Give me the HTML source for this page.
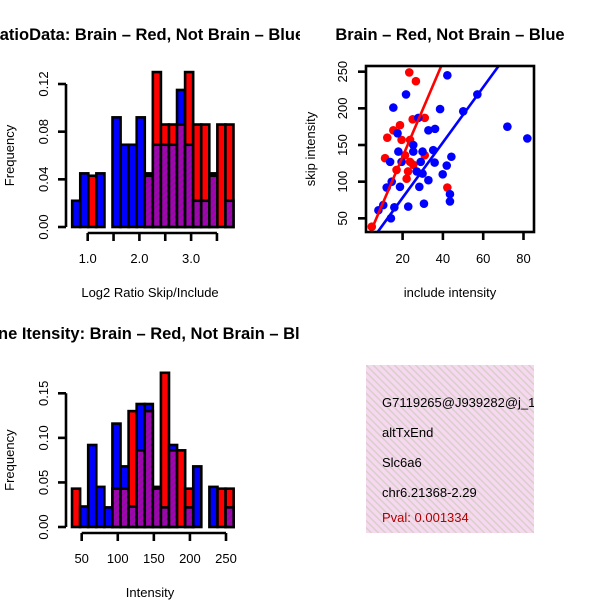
<!DOCTYPE html>
<html><head><meta charset="utf-8"><style>
html,body{margin:0;padding:0;background:#fff}
svg{display:block;font-family:"Liberation Sans",sans-serif}
</style></head><body>
<svg id="c" width="600" height="600" viewBox="0 0 600 600">
<defs>
<pattern id="hatchP" patternUnits="userSpaceOnUse" width="4" height="4" patternTransform="rotate(45)">
<rect width="4" height="4" fill="#a800b8"/><rect width="1.3" height="4" fill="#7a1a8a"/>
</pattern>
<pattern id="hatchBox" patternUnits="userSpaceOnUse" width="5" height="5" patternTransform="rotate(-45)">
<rect width="5" height="5" fill="#f6d8f0"/><rect width="1.5" height="5" fill="#d9cfc9"/>
</pattern>
<clipPath id="scClip"><rect x="366" y="66" width="168" height="166"/></clipPath>
<clipPath id="boxClip"><rect x="366" y="365" width="168" height="168"/></clipPath>
<clipPath id="leftClip"><rect x="0" y="0" width="300" height="600"/></clipPath>
</defs>
</svg>
<script>
// ---- Data: top-left ratio histogram ----
const ratioBinStart = 0.70;
const ratioBinWidth = 0.156;
const ratioBlue = [0.022,0.045,0,0.045,0,0.092,0.069,0.069,0.092,0.045,0.069,0.069,0.069,0.115,0.069,0.022,0.022,0.045,0,0.022];
const ratioRed  = [0,0,0.043,0,0,0,0,0,0,0.043,0.130,0.086,0.086,0.086,0.130,0.086,0.086,0.043,0.086,0.086];
const ratioYTicks = [0,0.04,0.08,0.12];
const ratioYLabels = ["0.00","0.04","0.08","0.12"];
const ratioXTicks = [1.0,1.5,2.0,2.5,3.0,3.5];
const ratioXLabels = ["1.0","","2.0","","3.0",""];
// ---- Data: bottom-left intensity histogram ----
const intBinStart = 36.6;
const intBinWidth = 11.2;
const intBlue = [0,0.023,0.092,0.045,0.022,0.116,0.068,0.023,0.138,0.138,0.045,0.022,0.092,0,0.022,0.068,0,0.045,0,0.022];
const intRed  = [0.043,0,0,0,0,0.043,0.043,0.130,0.086,0.130,0.043,0.173,0.086,0.086,0.043,0,0,0,0.043,0.043];
const intYTicks = [0,0.05,0.10,0.15];
const intYLabels = ["0.00","0.05","0.10","0.15"];
const intXTicks = [50,100,150,200,250];
const intXLabels = ["50","100","150","200","250"];
// ---- Data: scatter ----
const redX = [4.7,23.3,26.6,12.4,15.4,18.7,25,31,11.3,17,19.5,23.7,21.2,23.7,22.7,22,31,42.2,25.3];
const redY = [38.6,249,237,160,170,177,185,187,132,116,157,157,136,127,114,104,136,92,123];
const blueX = [42.2,21.7,15.4,38.6,50.1,57.1,72,81.9,27.8,32.8,36.1,17.5,17.9,13.8,25.3,25.3,29.9,29,35.9,35.2,41.9,44.2,39.9,32.8,29.9,28.3,18.7,12.1,14.6,43.5,43.5,30.6,22.8,15.9,14.2,10.4,8,27,19.5];
const blueY = [245,219,201,199,196,219,175,159,187,170,172,166,141,127,150,141,141,127,126,143,122,134,110,102,111,93,93,92,100,83,73,70,66,65,50,68,61,114,127];
const redFit = [5, 6.45];   // intercept, slope
const blueFit = [2.7, 3.77];
const scXTicks = [20,40,60,80];
const scYTicks = [50,100,150,200,250];

const svg = document.getElementById('c');
const NS = 'http://www.w3.org/2000/svg';
function mk(tag, attrs, parent){const e=document.createElementNS(NS,tag);for(const k in attrs)e.setAttribute(k,attrs[k]);(parent||svg).appendChild(e);return e;}
function txt(s, attrs, parent){const e=mk('text',attrs,parent);e.textContent=s;return e;}

function histogram(name, blue, red, start, width, xs, ys, yTicks, yLabels, xTicks, xLabels, xAxisY, xlab, title, titleX, titleAnchor, titleY, xlabY){
  const g = mk('g',{});
  
  
  const base = ys(0);
  for(let i=0;i<blue.length;i++){
    const x0 = xs(start+i*width), x1 = xs(start+(i+1)*width);
    const b = blue[i], r = red[i];
    const hi = Math.max(b,r), lo = Math.min(b,r);
    if(hi>0){
      const bar = mk('rect',{x:x0,y:ys(hi),width:x1-x0,height:base-ys(hi),fill:b>=r?'#0000ff':'#ff0000',stroke:'#000','stroke-width':2.6},g);
      
      
    }
    if(lo>0){
      const ov = mk('rect',{x:x0,y:ys(lo),width:x1-x0,height:base-ys(lo),fill:'url(#hatchP)',stroke:'#000','stroke-width':2.6},g);
      
      
    }
  }
  const ya = mk('g',{},g);
  
  
  mk('line',{x1:66,x2:66,y1:ys(yTicks[0]),y2:ys(yTicks[yTicks.length-1]),stroke:'#000','stroke-width':2.6},ya);
  yTicks.forEach((t,i)=>{
    mk('line',{x1:58,x2:66,y1:ys(t),y2:ys(t),stroke:'#000','stroke-width':2.6},ya);
    const l = txt(yLabels[i],{x:48,y:ys(t),'font-size':13,'text-anchor':'middle',transform:`rotate(-90 48 ${ys(t)})`},ya);
    
    
  });
  const xa = mk('g',{},g);
  
  
  mk('line',{x1:xs(xTicks[0]),x2:xs(xTicks[xTicks.length-1]),y1:xAxisY,y2:xAxisY,stroke:'#000','stroke-width':2.6},xa);
  xTicks.forEach((t,i)=>{
    mk('line',{x1:xs(t),x2:xs(t),y1:xAxisY,y2:xAxisY+8,stroke:'#000','stroke-width':2.6},xa);
    if(xLabels[i]){
      const l = txt(xLabels[i],{x:xs(t),y:xAxisY+30,'font-size':13,'text-anchor':'middle'},xa);
      
      
    }
  });
  const yt = txt('Frequency',{x:14,y:(ys(0)+ys(yTicks[yTicks.length-1]))/2,'font-size':13,'text-anchor':'middle',transform:`rotate(-90 14 ${(ys(0)+ys(yTicks[yTicks.length-1]))/2})`},g);
  
  
  const xt = txt(xlab,{x:150,y:xlabY,'font-size':13,'text-anchor':'middle'},g);
  
  
  const tt = txt(title,{x:titleX,y:titleY,'font-size':16.5,'font-weight':'bold','text-anchor':titleAnchor,'clip-path':'url(#leftClip)'},g);
  
  
}

const rxs = v => 87.7 + (v-1.0)*51.7;
const rys = v => 227 - v*(143/0.12);
histogram('ratio-histogram', ratioBlue, ratioRed, ratioBinStart, ratioBinWidth, rxs, rys, ratioYTicks, ratioYLabels, ratioXTicks, ratioXLabels, 233, 'Log2 Ratio Skip/Include', 'RatioData: Brain \u2013 Red, Not Brain \u2013 Blue', 146, 'middle', 40, 297);
const ixs = v => 81.7 + (v-50)*(144.3/200);
const iys = v => 527 - v*(133.7/0.15);
histogram('intensity-histogram', intBlue, intRed, intBinStart, intBinWidth, ixs, iys, intYTicks, intYLabels, intXTicks, intXLabels, 533, 'Intensity', 'ne Itensity: Brain \u2013 Red, Not Brain \u2013 Blue', -2, 'start', 339, 597);

const sxs = v => 362.3 + v*2.015;
const sys = v => 255 - v*0.7333;
const sg = mk('g',{});


const pg = mk('g',{'clip-path':'url(#scClip)'},sg);
redX.forEach((x,i)=>{
  const c = mk('circle',{cx:sxs(x),cy:sys(redY[i]),r:4.3,fill:'#ff0000'},pg);
  
  
});
blueX.forEach((x,i)=>{
  const c = mk('circle',{cx:sxs(x),cy:sys(blueY[i]),r:4.3,fill:'#0000ff'},pg);
  
  
});
[[redFit,'#ff0000','fit-line-red'],[blueFit,'#0000ff','fit-line-blue']].forEach(([f,col,n])=>{
  const l = mk('line',{x1:sxs(0),y1:sys(f[0]),x2:sxs(100),y2:sys(f[0]+f[1]*100),stroke:col,'stroke-width':2.6},pg);
  
  
});
const frame = mk('rect',{x:366,y:66,width:168,height:166,fill:'none',stroke:'#000','stroke-width':2.6},sg);


scXTicks.forEach(t=>{
  mk('line',{x1:sxs(t),x2:sxs(t),y1:232,y2:240,stroke:'#000','stroke-width':2.6},sg);
  const l = txt(String(t),{x:sxs(t),y:263,'font-size':13,'text-anchor':'middle'},sg);
  
  
});
scYTicks.forEach(t=>{
  mk('line',{x1:358,x2:366,y1:sys(t),y2:sys(t),stroke:'#000','stroke-width':2.6},sg);
  const l = txt(String(t),{x:347,y:sys(t),'font-size':13,'text-anchor':'middle',transform:`rotate(-90 347 ${sys(t)})`},sg);
  
  
});
const sxt = txt('include intensity',{x:450,y:297,'font-size':13,'text-anchor':'middle'},sg);


const syt = txt('skip intensity',{x:315,y:149,'font-size':13,'text-anchor':'middle',transform:'rotate(-90 315 149)'},sg);


const stt = txt('Brain \u2013 Red, Not Brain \u2013 Blue',{x:450,y:40,'font-size':16.5,'font-weight':'bold','text-anchor':'middle'},sg);



const ig = mk('g',{'clip-path':'url(#boxClip)'});


mk('rect',{x:366,y:365,width:168,height:168,fill:'url(#hatchBox)'},ig);
[['G7119265@J939282@j_104','gene-id',407,'#000'],['altTxEnd','event-type',437,'#000'],['Slc6a6','gene-name',467,'#000'],['chr6.21368-2.29','location',497,'#000'],['Pval: 0.001334','p-value',522,'#b00000']].forEach(([s,n,y,col])=>{
  const t = txt(s,{x:382,y:y,'font-size':13,fill:col},ig);
  
  
});
</script>
</body></html>
